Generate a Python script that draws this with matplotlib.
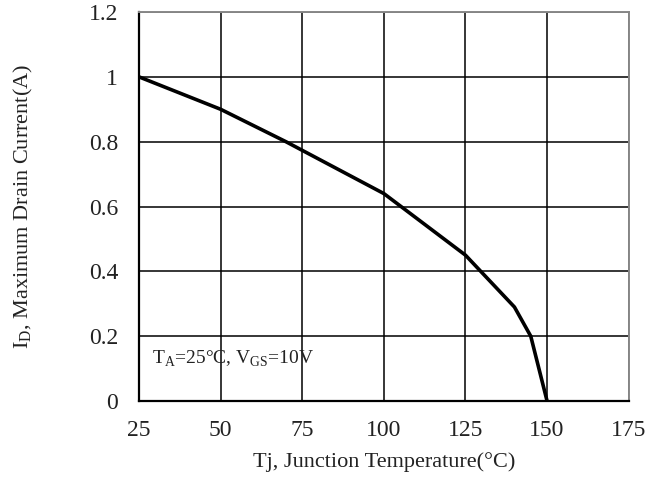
import matplotlib.pyplot as plt

# curva ID x Tj
tj = [25, 50, 70, 100, 125, 140, 145, 150]
id_max = [1.0, 0.9, 0.8, 0.64, 0.45, 0.29, 0.2, 0.0]

x_ticks = [25, 50, 75, 100, 125, 150, 175]
y_ticks = [0, 0.2, 0.4, 0.6, 0.8, 1, 1.2]
y_tick_labels = ["0", "0.2", "0.4", "0.6", "0.8", "1", "1.2"]

plt.rcParams['font.family'] = 'Liberation Serif'
plt.rcParams['mathtext.fontset'] = 'custom'
plt.rcParams['mathtext.rm'] = 'Liberation Serif'

fig = plt.figure(figsize=(6.59, 4.82), dpi=100)
ax = fig.add_axes([0.211, 0.168, 0.743, 0.807])

ax.plot(tj, id_max, color='black', linewidth=2.6, solid_joinstyle='miter', zorder=3)

ax.set_xlim(25, 175)
ax.set_ylim(0, 1.2)
ax.set_xticks(x_ticks)
ax.set_yticks(y_ticks)
ax.set_yticklabels(y_tick_labels)
ax.grid(True, color='black', linewidth=1.1)
ax.tick_params(length=0, labelsize=17, colors='#222222')
ax.tick_params(axis='y', pad=15)
ax.tick_params(axis='x', pad=14)

for s in ['left', 'bottom']:
    ax.spines[s].set_linewidth(1.6)
    ax.spines[s].set_color('black')
for s in ['top', 'right']:
    ax.spines[s].set_linewidth(1.4)
    ax.spines[s].set_color('#888888')

ax.set_xlabel('Tj, Junction Temperature(°C)', fontsize=16, color='#222222', labelpad=8)
ax.set_ylabel(r'I$_{\mathrm{D}}$, Maximum Drain Current(A)', fontsize=16, color='#222222', labelpad=39)

ax.text(29, 0.13, r'T$_{\mathrm{A}}$=25°C, V$_{\mathrm{GS}}$=10V', fontsize=14,
        color='#222222', va='center', ha='left')

fig.savefig('out.png', dpi=100)
